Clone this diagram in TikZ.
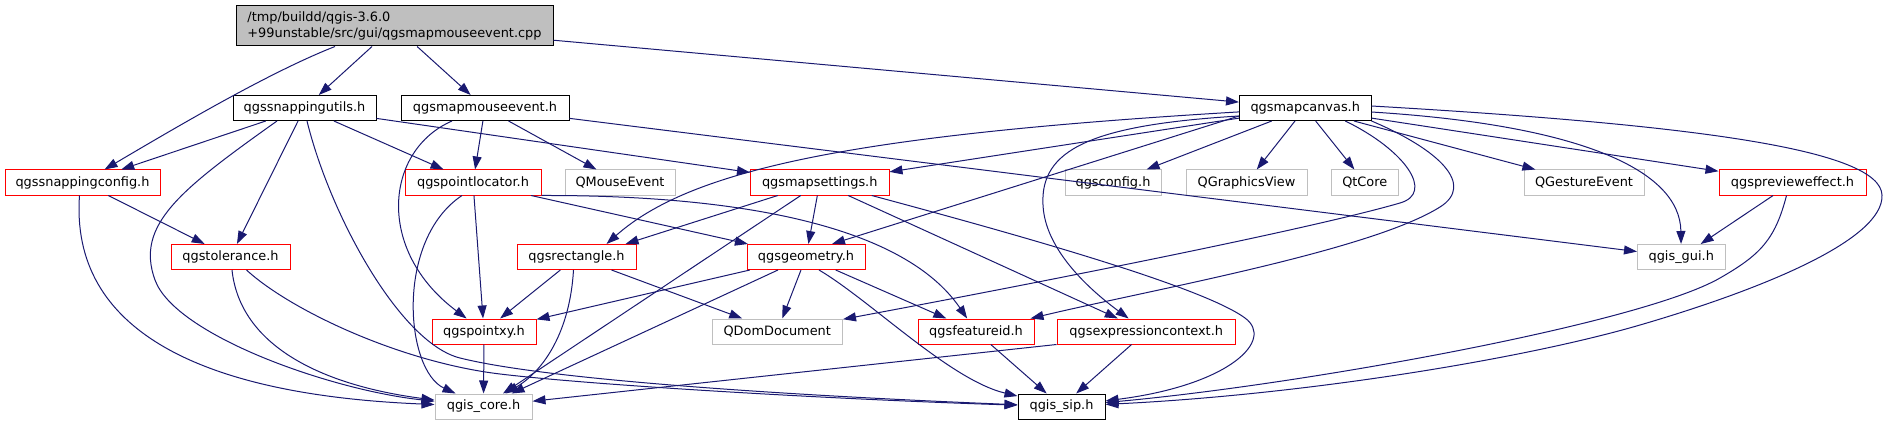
\documentclass[tikz,border=0pt]{standalone}
\usepackage{fontspec}
\setmainfont{DejaVu Sans}
\usepackage{tikz}
\usetikzlibrary{arrows.meta}
\definecolor{depblue}{HTML}{191970}
\definecolor{extgrey}{HTML}{BFBFBF}
\tikzset{
 inc file/.style={draw=black,fill=white,line width=1pt,inner sep=0pt,
                  minimum height=25pt,font=\fontsize{12.9}{16}\selectfont},
 inc red/.style={inc file,draw=red},
 inc ext/.style={inc file,draw=extgrey},
 inc root/.style={inc file,fill=extgrey,align=left,minimum height=40pt},
 inc dep/.style={draw=depblue,line width=1pt,line join=round,
                 -{Triangle[length=13pt,width=9pt,fill=depblue]}}
}

\begin{document}
\begin{tikzpicture}[x=1pt,y=-1pt]
 \useasboundingbox (0,0) rectangle (1888,425);
 % the source file
 \node[inc root,minimum width=317pt] (root) at (394.5,26)
   {/tmp/buildd/qgis-3.6.0\\+99unstable/src/gui/qgsmapmouseevent.cpp};
 % documented headers
 \foreach \n/\x/\y/\w/\t in {snaputils/304.5/108/143/qgssnappingutils.h,
   mapmouse/485/108/168/qgsmapmouseevent.h,
   mapcanvas/1305.25/108/131.5/qgsmapcanvas.h,
   sip/1061.5/406.5/87/qgis\_sip.h}{
   \node[inc file,minimum width=\w pt] (\n) at (\x,\y) {\t};
 }
 % headers with truncated graphs
 \foreach \n/\x/\y/\w/\t in {snapcfg/82.5/182.5/155/qgssnappingconfig.h,
   ptloc/473/182.5/136/qgspointlocator.h,
   mapset/819.75/182.5/138.5/qgsmapsettings.h,
   preview/1792.5/182.5/147/qgsprevieweffect.h,
   tolerance/230.5/257/119/qgstolerance.h,
   rectangle/576.5/257/119/qgsrectangle.h,
   geometry/806/257/118/qgsgeometry.h,
   ptxy/484/331.5/104/qgspointxy.h,
   featid/976/331.5/116/qgsfeatureid.h,
   expctx/1146.25/331.5/178.5/qgsexpressioncontext.h}{
   \node[inc red,minimum width=\w pt] (\n) at (\x,\y) {\t};
 }
 % external headers
 \foreach \n/\x/\y/\w/\t in {qmouse/620/182.5/110/QMouseEvent,
   qgsconfig/1113/182.5/96/qgsconfig.h,
   gview/1246.5/182.5/121/QGraphicsView,
   qtcore/1364.8/182.5/66.4/QtCore,
   gesture/1584/182.5/120/QGestureEvent,
   gui/1681.25/257/87.5/qgis\_gui.h,
   domdoc/777.25/331.5/130.5/QDomDocument,
   core/483.5/406.5/97/qgis\_core.h}{
   \node[inc ext,minimum width=\w pt] (\n) at (\x,\y) {\t};
 }

 % straight includes
 \foreach \a/\b in {root/snaputils,root/mapmouse,root/mapcanvas,
   snaputils/snapcfg,snaputils/ptloc,snaputils/mapset,snaputils/tolerance,
   mapmouse/ptloc,mapmouse/qmouse,mapmouse/gui,snapcfg/tolerance,
   ptloc/ptxy,ptloc/geometry,mapset/geometry,mapset/expctx,
   mapcanvas/mapset,mapcanvas/qgsconfig,mapcanvas/gview,mapcanvas/qtcore,
   mapcanvas/gesture,mapcanvas/preview,preview/gui,
   rectangle/ptxy,rectangle/domdoc,geometry/ptxy,geometry/core,
   geometry/domdoc,geometry/featid,ptxy/core,featid/sip,expctx/sip}{
   \draw[inc dep] (\a)--(\b);
 }
 \draw[inc dep] ([xshift=-42pt]mapset.south)--([xshift=49pt]rectangle.north);
 \draw[inc dep] ([xshift=-19pt]mapset.south)--(core);
 \draw[inc dep] ([yshift=-8pt]mapcanvas.west)--([xshift=26pt]geometry.north);
 \draw[inc dep] (expctx.south west)--(core);

 % curved includes
 \draw[inc dep] ([xshift=-59.5pt]root.south) .. controls (270,72) and (180,125) .. (snapcfg);
 \draw[inc dep] ([xshift=-27.5pt]snaputils.south) .. controls (180,190) and (135,225) .. (155,280)
   .. controls (175,335) and (330,390) .. (core);
 \draw[inc dep] ([xshift=2.5pt]snaputils.south) .. controls (330,215) and (400,343) .. (460,358)
   .. controls (560,383) and (850,398) .. (sip);
 \draw[inc dep] ([xshift=1.5pt]tolerance.south) .. controls (240,345) and (320,385) .. (core);
 \draw[inc dep] ([xshift=16pt]tolerance.south) .. controls (290,310) and (400,362) .. (500,374)
   .. controls (600,386) and (850,400) .. (sip);
 \draw[inc dep] ([xshift=-3pt]snapcfg.south) .. controls (70,330) and (200,395) .. (core);
 \draw[inc dep] ([xshift=-33pt]mapmouse.south) .. controls (385,150) and (375,250) .. (ptxy);
 \draw[inc dep] ([xshift=-11pt]ptloc.south) .. controls (395,240) and (405,370) .. (core);
 \draw[inc dep] (ptloc.south east) .. controls (720,195) and (900,220) .. (featid);
 \draw[inc dep] ([xshift=52pt]mapset.south) .. controls (1000,230) and (1200,285) .. (1245,318)
   .. controls (1275,340) and (1230,385) .. (sip);
 \draw[inc dep] (mapcanvas) .. controls (850,135) and (690,170) .. ([xshift=30pt]rectangle.north);
 \draw[inc dep] ([yshift=-8pt]mapcanvas.west) .. controls (1090,125) and (1040,150) .. (1043,205)
   .. controls (1045,250) and (1090,290) .. (expctx);
 \draw[inc dep] ([xshift=40pt]mapcanvas.south) .. controls (1405,150) and (1435,193) .. (1400,203)
   .. controls (1300,232) and (1000,290) .. (domdoc);
 \draw[inc dep] (mapcanvas.south east) .. controls (1440,150) and (1475,185) .. (1440,207)
   .. controls (1370,251) and (1150,290) .. (featid);
 \draw[inc dep] ([yshift=-4pt]mapcanvas.east) .. controls (1580,125) and (1680,170) .. (gui);
 \draw[inc dep] ([yshift=2pt]mapcanvas.east) .. controls (1700,125) and (1880,150) .. (1882,195)
   .. controls (1884,240) and (1760,290) .. (1640,325)
   .. controls (1520,360) and (1300,395) .. (sip);
 \draw[inc dep] ([xshift=-6pt]preview.south) .. controls (1775,240) and (1760,255) .. (1720,278)
   .. controls (1640,324) and (1300,385) .. (sip);
 \draw[inc dep] ([xshift=13pt]geometry.south) .. controls (870,300) and (950,380) .. (sip);
 \draw[inc dep] ([xshift=-3pt]rectangle.south) .. controls (570,330) and (545,370) .. (core);
\end{tikzpicture}
\end{document}
